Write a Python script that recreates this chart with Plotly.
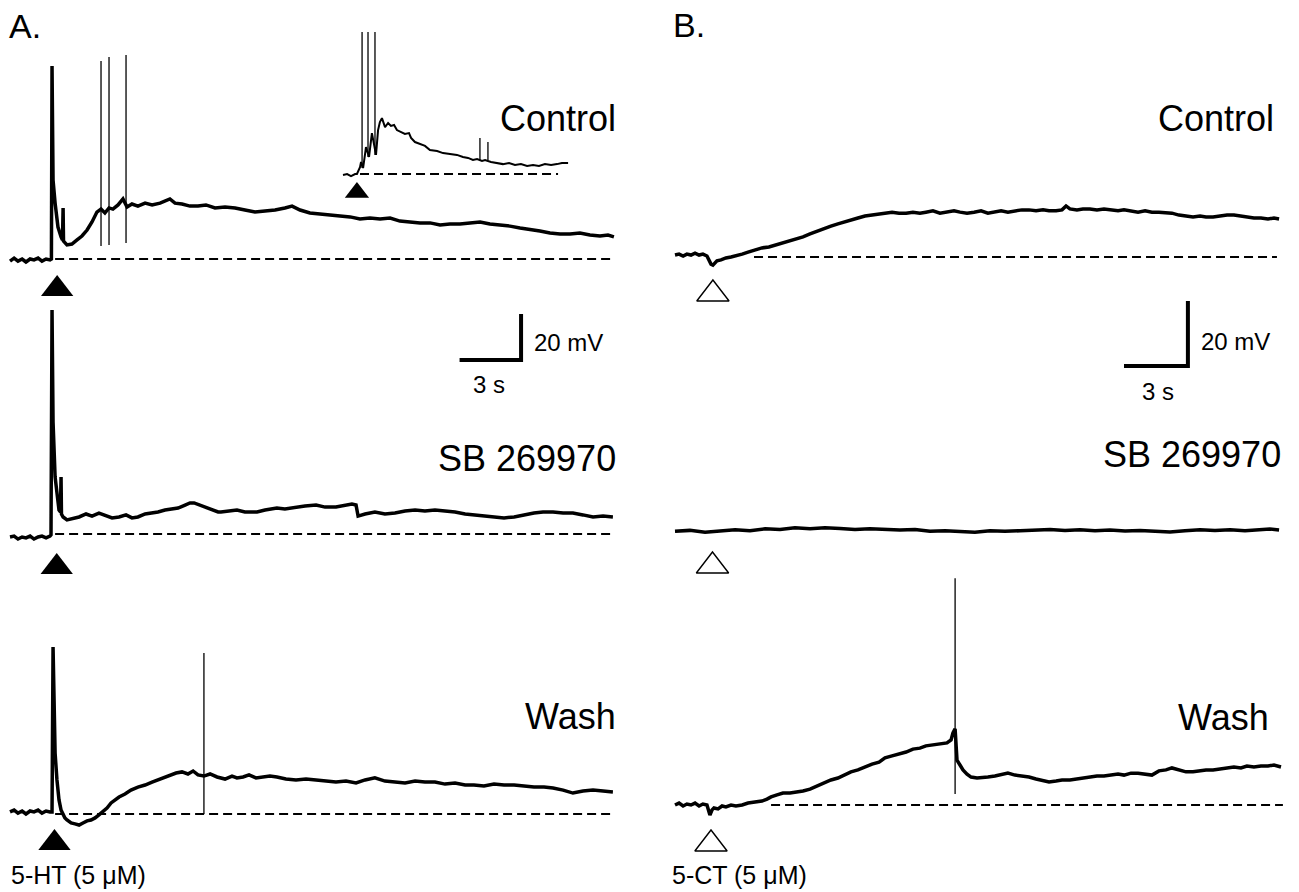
import plotly.graph_objects as go

# ---------------- DATA (time in s, membrane potential in mV rel. to rest) ----------------
# Panel A - Control
ctrlA_t = [0.00,0.20,0.39,0.59,0.78,0.98,1.17,1.37,1.56,1.76,1.95,2.02,2.05,2.10,2.20,2.34,2.49,2.56,2.59,2.61,
           2.78,3.02,3.27,3.51,3.76,4.00,4.24,4.44,4.63,4.83,5.02,5.27,5.51,5.71,5.95,6.24,6.59,6.93,7.32,7.61,
           7.80,8.05,8.39,8.78,9.17,9.56,10.00,10.49,10.98,11.46,11.95,12.44,12.93,13.41,13.76,14.15,14.63,15.12,15.61,16.10,
           16.59,17.07,17.56,18.05,18.54,19.02,19.51,20.00,20.49,20.98,21.46,21.95,22.44,22.93,23.41,23.90,24.39,24.88,25.37,25.85,
           26.34,26.83,27.32,27.80,28.29,28.78,29.17,29.46]
ctrlA_v = [-0.9,0.4,-0.9,0.0,-1.3,0.0,-0.4,0.4,-0.9,0.0,-0.4,0.0,83.9,34.3,24.3,13.9,9.6,8.3,22.2,7.8,
           6.1,6.5,8.3,10.0,12.6,16.1,20.4,21.7,20.0,22.2,21.7,23.5,26.1,22.6,23.9,23.0,24.3,23.5,24.3,25.2,
           26.1,24.3,23.9,23.0,23.0,23.5,22.2,22.6,22.2,21.3,20.4,20.9,21.3,22.2,23.0,21.3,20.0,19.6,19.1,18.7,
           18.3,17.4,17.8,17.4,17.8,16.5,16.1,15.7,15.7,14.8,15.2,15.2,15.7,16.1,15.2,14.8,14.3,13.5,13.0,12.2,
           11.3,10.9,10.9,11.3,10.4,10.0,10.4,9.6]
ctrlA_spk_t = [4.44, 4.83, 5.66]
ctrlA_spk_top = [86.1, 87.8, 88.7]
ctrlA_spk_bot = [5.7, 6.1, 7.0]

# Panel A - Control inset
insA_t = [0.00,0.20,0.39,0.59,0.68,0.78,0.83,0.88,0.98,1.07,1.12,1.27,1.37,1.41,1.61,1.71,1.80,1.90,2.05,2.20,
          2.34,2.49,2.63,2.83,3.02,3.22,3.32,3.51,3.76,4.00,4.24,4.59,4.88,5.22,5.56,5.85,6.10,6.34,6.54,6.78,
          6.93,7.22,7.51,7.80,8.10,8.39,8.68,8.98,9.27,9.56,9.85,10.15,10.44,10.68,10.98]
insA_v = [-0.4,0.0,-0.9,0.0,0.0,1.7,3.0,5.2,2.6,8.3,11.7,7.4,14.8,17.8,8.3,19.1,22.6,24.3,20.4,22.2,
          20.9,21.3,19.1,18.3,17.4,17.8,15.7,13.9,13.0,12.2,10.4,10.0,9.1,8.7,8.3,7.4,7.0,6.1,6.5,5.7,
          6.1,5.2,4.8,4.3,4.8,3.9,4.3,3.5,3.9,3.5,4.3,3.9,4.3,4.8,4.8]
insA_spk_t = [0.93, 1.22, 1.56, 6.68, 7.07]
insA_spk_top = [61.7, 61.7, 61.7, 15.7, 13.9]
insA_spk_bot = [2.6, 7.4, 8.3, 6.1, 6.1]

# Panel A - SB 269970
sbA_t = [0.00,0.20,0.39,0.59,0.78,0.98,1.17,1.37,1.56,1.76,1.95,2.00,2.05,2.10,2.20,2.29,2.39,2.46,2.49,2.51,
         2.59,2.78,3.02,3.37,3.71,4.00,4.34,4.68,4.98,5.32,5.66,5.95,6.24,6.59,6.93,7.22,7.56,7.90,8.20,8.54,
         8.78,8.98,9.27,9.56,9.85,10.15,10.29,10.63,11.07,11.46,12.05,12.44,13.02,13.41,13.95,14.39,14.93,15.37,15.90,16.34,
         16.68,16.88,16.98,17.32,17.80,18.29,18.78,19.27,19.76,20.24,20.73,21.22,21.71,22.20,22.63,23.12,23.61,24.10,24.59,25.07,
         25.56,26.00,26.49,26.98,27.46,27.95,28.44,28.93,29.41]
sbA_v = [-1.3,-0.9,-2.2,-1.3,-1.7,-0.9,-2.2,-1.3,-0.9,-1.7,-0.9,-0.4,97.4,48.7,24.8,16.1,10.4,9.6,24.8,8.7,
         7.4,6.1,6.5,7.4,8.7,7.8,9.1,7.8,7.0,7.4,8.3,7.0,7.4,8.7,9.1,9.6,10.4,10.9,11.3,12.6,
         13.5,13.5,12.6,11.7,10.4,9.6,9.6,10.0,10.4,9.6,9.6,10.4,11.3,10.9,11.7,12.2,12.6,11.7,11.7,12.6,
         13.0,12.6,7.8,8.7,9.6,8.7,9.1,10.0,10.4,10.0,10.4,10.0,9.6,8.7,8.3,7.8,7.4,7.0,7.4,8.3,
         9.1,9.6,9.6,9.1,9.1,8.3,7.4,7.8,7.4]

# Panel A - Wash
washA_t = [0.00,0.20,0.39,0.59,0.78,0.98,1.17,1.37,1.56,1.76,1.95,2.05,2.10,2.15,2.20,2.29,2.39,2.49,2.59,2.68,
           2.78,2.98,3.17,3.37,3.56,3.76,3.95,4.15,4.34,4.54,4.73,4.93,5.12,5.32,5.61,5.90,6.24,6.59,6.93,7.22,
           7.51,7.80,8.10,8.39,8.68,8.93,9.17,9.46,9.76,10.10,10.49,10.83,11.07,11.37,11.66,12.00,12.34,12.68,13.02,13.46,
           13.95,14.44,14.93,15.41,15.90,16.39,16.88,17.32,17.80,18.29,18.78,19.27,19.76,20.24,20.73,21.22,21.71,22.20,22.63,23.12,
           23.61,24.10,24.59,25.07,25.56,26.05,26.49,26.98,27.46,27.95,28.44,28.93,29.41]
washA_v = [0.9,1.7,0.4,1.3,0.0,1.3,0.9,1.7,0.4,1.3,0.9,0.9,72.6,49.6,26.5,14.8,6.1,1.7,-0.4,-1.7,
           -2.6,-3.9,-4.3,-4.8,-3.9,-3.0,-2.6,-1.7,-0.4,0.9,2.6,4.8,6.1,7.4,8.7,10.4,11.7,12.6,13.9,14.8,
           16.1,17.0,17.8,18.3,17.4,18.7,17.0,16.5,17.4,16.1,15.2,16.5,15.7,16.1,17.0,15.7,16.1,16.5,16.1,15.2,
           14.8,15.2,14.8,14.3,13.9,14.3,13.5,14.8,15.7,14.3,13.9,13.5,14.3,13.9,13.9,13.0,13.5,12.6,12.6,12.2,
           13.0,12.6,12.6,12.2,11.7,11.7,11.3,10.4,9.1,10.0,10.4,10.0,9.6]
washA_spk_t = [9.46]
washA_spk_top = [70.0]
washA_spk_bot = [0.0]

# Panel B - Control
ctrlB_t = [0.00,0.19,0.38,0.56,0.75,0.94,1.13,1.31,1.50,1.60,1.69,1.78,1.88,1.97,2.16,2.39,2.63,2.86,3.15,3.43,
           3.76,4.08,4.41,4.74,5.07,5.40,5.73,6.01,6.34,6.67,7.00,7.32,7.65,7.93,8.26,8.59,8.92,9.25,9.58,9.86,
           10.19,10.52,10.85,11.17,11.50,11.78,12.11,12.44,12.77,13.10,13.38,13.71,14.04,14.37,14.69,15.02,15.31,15.63,15.96,16.29,
           16.62,16.95,17.28,17.56,17.89,18.17,18.36,18.54,18.87,19.15,19.48,19.81,20.14,20.47,20.80,21.08,21.41,21.74,22.07,22.39,
           22.72,23.05,23.33,23.66,23.99,24.32,24.65,24.93,25.26,25.59,25.92,26.24,26.57,26.85,27.18,27.51,27.84,28.12,28.36]
ctrlB_v = [0.6,0.9,0.3,0.9,0.6,1.2,0.6,0.9,0.3,-0.9,-2.2,-2.5,-1.8,-1.2,-0.9,-0.3,0.0,0.3,0.9,1.5,
           2.2,2.8,3.1,3.7,4.3,4.9,5.5,6.2,7.1,8.0,8.9,9.5,10.2,10.8,11.4,12.0,12.6,12.9,13.2,13.5,
           13.8,13.5,13.5,13.8,13.5,13.8,14.2,13.5,13.8,14.2,13.8,13.5,13.8,14.2,13.5,13.8,14.2,13.8,14.2,14.5,
           14.5,14.2,14.5,14.2,14.2,14.5,15.7,14.8,14.5,14.8,14.8,14.5,14.8,14.5,14.2,14.5,14.2,13.8,14.2,13.8,
           13.8,13.5,13.5,12.9,12.6,12.3,12.6,12.3,12.3,12.6,12.9,12.9,12.6,12.3,12.0,12.0,11.7,12.0,11.7]

# Panel B - SB 269970
sbB_t = [0.00,0.70,1.41,2.11,2.82,3.52,4.23,4.93,5.63,6.34,7.04,7.75,8.45,9.15,9.86,10.56,11.27,11.97,12.68,13.38,
         14.08,14.79,15.49,16.20,16.90,17.61,18.31,19.01,19.72,20.42,21.13,21.83,22.54,23.24,23.94,24.65,25.35,26.06,26.76,27.46,
         27.93,28.36]
sbB_v = [0.2,0.5,-0.1,0.4,0.7,0.4,1.0,0.8,1.3,1.0,1.3,1.1,0.8,1.0,0.7,0.6,0.8,0.2,0.4,0.2,
         -0.1,0.4,0.2,0.4,0.5,0.8,0.5,0.7,0.4,0.6,0.3,0.5,0.2,0.0,0.4,0.7,0.5,0.7,0.4,0.6,
         0.9,0.6]

# Panel B - Wash
washB_t = [0.00,0.19,0.38,0.56,0.75,0.94,1.13,1.31,1.50,1.60,1.64,1.74,1.83,2.02,2.21,2.39,2.63,2.86,3.15,3.43,
           3.76,4.08,4.32,4.51,4.79,5.07,5.40,5.73,6.01,6.34,6.67,7.00,7.32,7.65,7.93,8.26,8.59,8.92,9.25,9.58,
           9.86,10.19,10.52,10.85,11.17,11.50,11.78,12.11,12.44,12.77,12.96,13.05,13.15,13.24,13.38,13.52,13.71,13.90,14.18,14.46,
           14.69,15.02,15.31,15.63,15.96,16.29,16.62,16.95,17.28,17.56,17.89,18.17,18.54,18.87,19.15,19.48,19.81,20.14,20.47,20.80,
           21.08,21.41,21.74,22.07,22.39,22.72,23.05,23.33,23.66,23.99,24.32,24.65,24.93,25.26,25.59,25.92,26.24,26.57,26.85,27.18,
           27.51,27.84,28.12,28.45]
washB_v = [0.0,0.6,-0.3,0.3,0.0,0.6,-0.3,0.3,0.0,-2.2,-3.1,-1.5,-0.9,-1.2,-0.3,-0.6,0.0,-0.3,0.0,0.6,
           0.9,1.2,1.8,2.5,3.1,3.7,3.7,4.0,4.3,4.9,5.8,6.8,7.7,8.3,9.2,10.2,10.8,11.7,12.6,13.2,
           14.5,15.1,15.7,16.3,17.2,17.5,18.2,18.5,18.8,19.1,20.0,22.2,23.4,13.8,12.3,10.8,9.5,8.6,8.3,8.6,
           8.6,8.9,9.2,9.8,9.2,8.9,8.6,8.0,7.4,7.1,7.4,7.7,7.7,8.0,8.3,8.6,8.9,8.9,9.2,9.5,
           9.2,9.8,9.8,9.5,9.2,10.5,10.8,11.4,10.8,10.2,10.2,10.5,10.8,10.8,11.1,11.4,11.7,11.4,12.0,11.7,
           12.0,12.0,12.3,11.7]
washB_spk_t = [13.15]
washB_spk_top = [69.8]
washB_spk_bot = [3.4]

# Agonist application times (s) and baseline (dashed) extents
stim_A = [2.30, 2.28, 2.17]      # Control, SB, Wash
stim_inset = 0.68
stim_B = [1.78, 1.76, 1.69]
base_A = [[2.2, 29.5], [2.2, 29.5], [2.2, 29.5]]
base_inset = [0.83, 10.49]
base_B = [[3.71, 28.26], None, [4.51, 28.54]]

# Scale bars
scale_s = 3
scale_mV = 20

labels_cond = ["Control", "SB 269970", "Wash"]

for a, b in [(ctrlA_t, ctrlA_v), (insA_t, insA_v), (sbA_t, sbA_v), (washA_t, washA_v),
             (ctrlB_t, ctrlB_v), (sbB_t, sbB_v), (washB_t, washB_v)]:
    assert len(a) == len(b), (len(a), len(b))

# ---------------- LAYOUT GEOMETRY (pixels) ----------------
W, H = 1299, 892
FONT = "Liberation Sans, Arial, Helvetica, sans-serif"
# (x origin px, px per s, baseline px, px per mV)
geo = {
    1: (10, 20.5, 259, 2.3),    # A control
    2: (343, 20.5, 174, 2.3),   # A inset
    3: (10, 20.5, 534, 2.3),    # A SB
    4: (10, 20.5, 814, 2.3),    # A wash
    5: (675, 21.3, 257, 3.25),  # B control
    6: (675, 21.3, 532, 3.25),  # B SB
    7: (675, 21.3, 805, 3.25),  # B wash
}

fig = go.Figure()
layout_axes = {}
for k, (x0, pps, bpx, ppm) in geo.items():
    xn = "xaxis" if k == 1 else f"xaxis{k}"
    yn = "yaxis" if k == 1 else f"yaxis{k}"
    xa = dict(range=[-x0 / pps, (W - x0) / pps], visible=False, showgrid=False,
              zeroline=False, fixedrange=True, domain=[0, 1])
    ya = dict(range=[(bpx - H) / ppm, bpx / ppm], visible=False, showgrid=False,
              zeroline=False, fixedrange=True, domain=[0, 1])
    if k > 1:
        xa.update(overlaying="x", anchor=f"y{k}")
        ya.update(overlaying="y", anchor=f"x{k}")
        xa.pop("domain"); ya.pop("domain")
    layout_axes[xn] = xa
    layout_axes[yn] = ya


def ax(k):
    return ("x" if k == 1 else f"x{k}", "y" if k == 1 else f"y{k}")


def add_baseline(k, ext):
    if ext is None:
        return
    xa, ya = ax(k)
    fig.add_trace(go.Scatter(x=ext, y=[0, 0], xaxis=xa, yaxis=ya, mode="lines",
                             line=dict(color="black", width=2, dash="9px,5px"),
                             hoverinfo="skip", showlegend=False))


def add_trace(k, t, v, width=3.5):
    xa, ya = ax(k)
    fig.add_trace(go.Scatter(x=t, y=v, xaxis=xa, yaxis=ya, mode="lines",
                             line=dict(color="black", width=width),
                             hoverinfo="skip", showlegend=False))


def add_spikes(k, st, top, bot):
    xs, ys = [], []
    for s, tp, bt in zip(st, top, bot):
        xs += [s, s, None]
        ys += [bt, tp, None]
    xa, ya = ax(k)
    fig.add_trace(go.Scatter(x=xs, y=ys, xaxis=xa, yaxis=ya, mode="lines",
                             line=dict(color="black", width=1.3),
                             hoverinfo="skip", showlegend=False))


def add_triangle(k, ts, off_px, size, filled):
    xa, ya = ax(k)
    ppm = geo[k][3]
    fig.add_trace(go.Scatter(
        x=[ts], y=[-off_px / ppm], xaxis=xa, yaxis=ya, mode="markers",
        marker=dict(symbol="triangle-up" if filled else "triangle-up-open", size=size,
                    color="black", line=dict(color="black", width=0 if filled else 1.4)),
        hoverinfo="skip", showlegend=False))


# baselines
add_baseline(1, base_A[0]); add_baseline(2, base_inset)
add_baseline(3, base_A[1]); add_baseline(4, base_A[2])
add_baseline(5, base_B[0]); add_baseline(6, base_B[1]); add_baseline(7, base_B[2])

# traces
add_trace(1, ctrlA_t, ctrlA_v)
add_trace(2, insA_t, insA_v, width=2)
add_trace(3, sbA_t, sbA_v)
add_trace(4, washA_t, washA_v)
add_trace(5, ctrlB_t, ctrlB_v)
add_trace(6, sbB_t, sbB_v)
add_trace(7, washB_t, washB_v)

# thin spikes
add_spikes(1, ctrlA_spk_t, ctrlA_spk_top, ctrlA_spk_bot)
add_spikes(2, insA_spk_t, insA_spk_top, insA_spk_bot)
add_spikes(4, washA_spk_t, washA_spk_top, washA_spk_bot)
add_spikes(7, washB_spk_t, washB_spk_top, washB_spk_bot)

# application markers
add_triangle(1, stim_A[0], 30, 28, True)
add_triangle(3, stim_A[1], 33, 28, True)
add_triangle(4, stim_A[2], 29, 28, True)
add_triangle(2, stim_inset, 18.5, 21, True)
add_triangle(5, stim_B[0], 37, 28, False)
add_triangle(6, stim_B[1], 34, 28, False)
add_triangle(7, stim_B[2], 39, 28, False)

# scale bars (corner positions in axis units)
for k, (tc, vc) in [(1, (24.93, -43.9)), (5, (24.08, -33.5))]:
    xa, ya = ax(k)
    fig.add_trace(go.Scatter(x=[tc - scale_s, tc, tc], y=[vc, vc, vc + scale_mV],
                             xaxis=xa, yaxis=ya, mode="lines",
                             line=dict(color="black", width=4),
                             hoverinfo="skip", showlegend=False))


def ann(text, xpx, ypx, size, xanchor, yanchor="middle"):
    return dict(text=text, x=xpx / W, y=1 - ypx / H, xref="paper", yref="paper",
                xanchor=xanchor, yanchor=yanchor, showarrow=False, borderpad=0,
                font=dict(size=size, family=FONT, color="black"))


annotations = [
    ann("A.", 8, 26, 34, "left"),
    ann("B.", 672, 25, 34, "left"),
    ann(labels_cond[0], 617, 118, 36, "right"),
    ann(labels_cond[1], 617, 458, 36, "right"),
    ann(labels_cond[2], 617, 716, 36, "right"),
    ann(labels_cond[0], 1275, 118, 36, "right"),
    ann(labels_cond[1], 1282, 454, 36, "right"),
    ann(labels_cond[2], 1270, 717, 36, "right"),
    ann(f"{scale_mV} mV", 533, 343, 24, "left"),
    ann(f"{scale_s} s", 472, 384, 24, "left"),
    ann(f"{scale_mV} mV", 1200, 341, 24, "left"),
    ann(f"{scale_s} s", 1141, 392, 24, "left"),
    ann("5-HT (5 μM)", 10, 890, 25, "left", "bottom"),
    ann("5-CT (5 μM)", 671, 890, 25, "left", "bottom"),
]

fig.update_layout(
    width=W, height=H, margin=dict(l=0, r=0, t=0, b=0, pad=0),
    paper_bgcolor="white", plot_bgcolor="rgba(0,0,0,0)",
    showlegend=False, annotations=annotations, hovermode=False,
    **layout_axes,
)

fig.write_html("out.html", config={"displayModeBar": False})
